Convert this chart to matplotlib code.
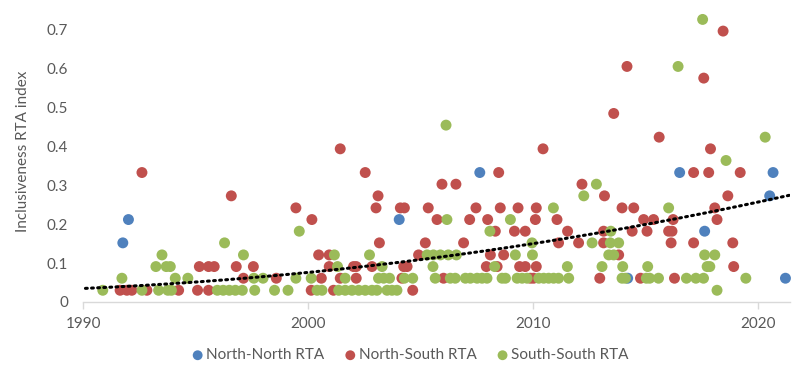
import numpy as np
import matplotlib
matplotlib.use('Agg')
import matplotlib.pyplot as plt

plt.rcParams['font.family'] = ['Lato', 'DejaVu Sans']

# North-North RTA
nn_year = [1991.76, 1992.01, 2004.04, 2007.62, 2014.19, 2016.5, 2017.61,
           2020.5, 2020.65, 2021.2]
nn_val = [0.152, 0.212, 0.212, 0.333, 0.061, 0.333, 0.182,
          0.273, 0.333, 0.061]

# North-South RTA
ns_year = [1992.61, 1996.58, 1995.16, 1995.57, 1995.82, 1996.8, 1997.56, 1997.12,
           1991.64, 1991.94, 1992.16, 1992.83, 1994.24, 1995.08, 1995.57,
           2001.42, 2002.53, 2003.1, 2003.01, 2004.09, 2004.27, 2005.33, 1999.45,
           2000.16, 2003.16, 2005.2, 2000.46, 2000.93, 2004.9,
           2000.93, 2002.01, 2002.13, 2002.83, 2004.24, 2004.39,
           1998.58, 2000.58, 2001.42, 2002.13, 2004.16,
           2000.13, 2001.12, 2004.64,
           2010.43, 2008.46, 2005.94, 2006.56, 2012.16,
           2007.45, 2008.53, 2009.32, 2010.13,
           2005.72, 2007.17, 2007.97, 2010.09, 2011.05,
           2008.31, 2009.16, 2009.64, 2011.52,
           2006.9, 2011.12, 2012.01,
           2008.09, 2008.68,
           2007.91, 2008.39, 2009.39, 2009.64, 2010.13,
           2006.01, 2009.87, 2010.01, 2012.95,
           2014.16, 2017.57, 2018.43, 2013.57, 2015.59, 2017.87,
           2017.12, 2017.79, 2019.19,
           2013.16, 2018.64,
           2013.94, 2014.46, 2018.06,
           2014.9, 2015.34, 2016.21, 2018.16,
           2013.12, 2014.39, 2015.05, 2016.01, 2016.16,
           2013.12, 2016.12, 2017.12, 2018.86,
           2013.79, 2018.9,
           2014.76, 2016.27]
ns_val = [0.333, 0.273, 0.091, 0.091, 0.091, 0.091, 0.091, 0.061,
          0.03, 0.03, 0.03, 0.03, 0.03, 0.03, 0.03,
          0.394, 0.333, 0.273, 0.242, 0.242, 0.242, 0.242, 0.242,
          0.212, 0.152, 0.152, 0.121, 0.121, 0.121,
          0.091, 0.091, 0.091, 0.091, 0.091, 0.091,
          0.061, 0.061, 0.061, 0.061, 0.061,
          0.03, 0.03, 0.03,
          0.394, 0.333, 0.303, 0.303, 0.303,
          0.242, 0.242, 0.242, 0.242,
          0.212, 0.212, 0.212, 0.212, 0.212,
          0.182, 0.182, 0.182, 0.182,
          0.152, 0.152, 0.152,
          0.121, 0.121,
          0.091, 0.091, 0.091, 0.091, 0.091,
          0.061, 0.061, 0.061, 0.061,
          0.606, 0.576, 0.697, 0.485, 0.424, 0.394,
          0.333, 0.333, 0.333,
          0.273, 0.273,
          0.242, 0.242, 0.242,
          0.212, 0.212, 0.212, 0.212,
          0.182, 0.182, 0.182, 0.182, 0.182,
          0.152, 0.152, 0.152, 0.152,
          0.121, 0.091,
          0.061, 0.061]

# South-South RTA
ss_year = [1996.28, 1993.5, 1997.12,
           1993.23, 1993.69, 1993.87,
           1991.72, 1994.09, 1994.65, 1997.58,
           1990.87, 1992.61, 1993.35, 1993.76, 1993.92, 1995.96, 1996.22, 1996.49,
           1996.76, 1997.07, 1997.62,
           1999.6, 2001.16, 2002.72, 2005.28, 2001.3, 2003.28,
           1997.99, 1999.45, 2000.13, 2001.64, 2003.12, 2003.35, 2003.61, 2004.27, 2004.64,
           1998.5, 1999.1, 2000.39, 2000.61, 2001.35, 2001.64, 2001.94, 2002.24,
           2002.53, 2002.83, 2003.05, 2003.5, 2003.72, 2003.94,
           2006.12, 2012.8, 2012.24, 2010.89, 2006.16, 2008.98, 2008.07,
           2009.94, 2012.61,
           2005.56, 2005.87, 2006.22, 2006.58, 2009.2, 2009.96,
           2005.54, 2008.28, 2011.51, 2013.05,
           2005.64, 2006.31, 2006.53, 2006.98, 2007.2, 2007.5, 2007.72, 2007.94,
           2008.61, 2008.76, 2009.28, 2009.5, 2009.72, 2010.24, 2010.46, 2010.68,
           2010.9, 2011.12, 2011.57,
           2017.52, 2016.43, 2020.3, 2018.56, 2016.01, 2013.44,
           2013.42, 2013.79,
           2013.35, 2013.57, 2017.61, 2018.06,
           2013.97, 2015.08, 2017.72, 2017.84,
           2013.94, 2014.09, 2015.02, 2015.17, 2015.56, 2016.8, 2017.22, 2017.56, 2019.44,
           2018.16]
ss_val = [0.152, 0.121, 0.121,
          0.091, 0.091, 0.091,
          0.061, 0.061, 0.061, 0.061,
          0.03, 0.03, 0.03, 0.03, 0.03, 0.03, 0.03, 0.03,
          0.03, 0.03, 0.03,
          0.182, 0.121, 0.121, 0.121, 0.091, 0.091,
          0.061, 0.061, 0.061, 0.061, 0.061, 0.061, 0.061, 0.061, 0.061,
          0.03, 0.03, 0.03, 0.03, 0.03, 0.03, 0.03, 0.03,
          0.03, 0.03, 0.03, 0.03, 0.03, 0.03,
          0.455, 0.303, 0.273, 0.242, 0.212, 0.212, 0.182,
          0.152, 0.152,
          0.121, 0.121, 0.121, 0.121, 0.121, 0.121,
          0.091, 0.091, 0.091, 0.091,
          0.061, 0.061, 0.061, 0.061, 0.061, 0.061, 0.061, 0.061,
          0.061, 0.061, 0.061, 0.061, 0.061, 0.061, 0.061, 0.061,
          0.061, 0.061, 0.061,
          0.727, 0.606, 0.424, 0.364, 0.242, 0.182,
          0.152, 0.152,
          0.121, 0.121, 0.121, 0.121,
          0.091, 0.091, 0.091, 0.091,
          0.061, 0.061, 0.061, 0.061, 0.061, 0.061, 0.061, 0.061, 0.061,
          0.03]

# trend line
trend_year = [1990.1, 1997.9, 2005.0, 2013.0, 2021.4]
trend_val = [0.035, 0.064, 0.110, 0.178, 0.275]

blue = '#4F81BD'
red = '#C0504D'
green = '#9BBB59'
grey = '#595959'

fig = plt.figure(figsize=(8, 3.76), dpi=100)
ax = fig.add_axes([0.104, 0.197, 0.884, 0.803])

ms = 62
ax.scatter(nn_year, nn_val, s=ms, color=blue, edgecolors='none', clip_on=False,
           label='North-North RTA', zorder=3)
ax.scatter(ns_year, ns_val, s=ms, color=red, edgecolors='none', clip_on=False,
           label='North-South RTA', zorder=3)
ax.scatter(ss_year, ss_val, s=ms, color=green, edgecolors='none', clip_on=False,
           label='South-South RTA', zorder=3)

# smooth 2nd order curve through the trend readings
ty = np.array(trend_year) - 1990
coef = np.polyfit(ty, trend_val, 2)
tx = np.linspace(ty.min(), ty.max(), 200)
ax.plot(tx + 1990, np.polyval(coef, tx), color='black', lw=2.2, ls=(0, (0.6, 1.4)),
        dash_capstyle='round', zorder=4)

ax.set_xlim(1990, 2021.42)
ax.set_ylim(0, 0.777)
ax.set_xticks([1990, 2000, 2010, 2020])
ax.set_yticks(np.arange(0, 0.71, 0.1))
ax.set_yticklabels(['0', '0.1', '0.2', '0.3', '0.4', '0.5', '0.6', '0.7'])

for s in ['top', 'right', 'left']:
    ax.spines[s].set_visible(False)
ax.spines['bottom'].set_color('#D9D9D9')
ax.spines['bottom'].set_linewidth(1)
ax.tick_params(axis='x', colors='#D9D9D9', length=5, width=1, labelcolor=grey,
               labelsize=11, pad=6)
ax.tick_params(axis='y', length=0, labelcolor=grey, labelsize=11, pad=11)

ax.set_ylabel('Inclusiveness RTA index', color=grey, fontsize=11, labelpad=12)

fig.legend(loc='lower center', bbox_to_anchor=(0.5125, 0.0), ncol=3, frameon=False,
           fontsize=11, labelcolor=grey, handlelength=0.8, handletextpad=0.15,
           columnspacing=1.3, scatterpoints=1, markerscale=0.9)

fig.savefig('out.png', dpi=100)
